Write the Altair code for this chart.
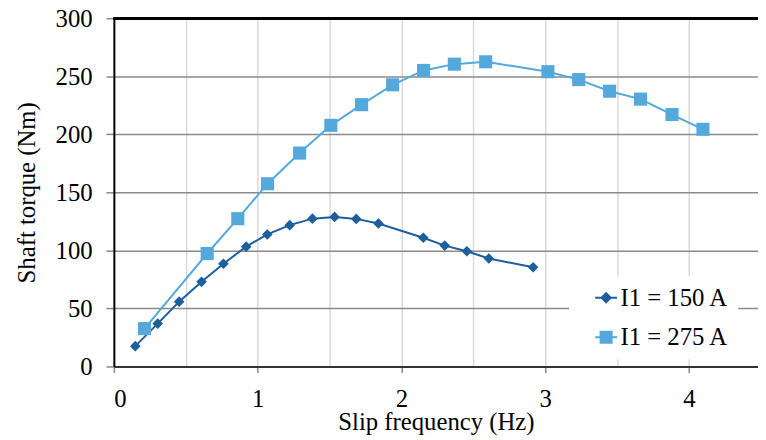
import altair as alt
import pandas as pd

# Series data
s150_x = [0.149, 0.305, 0.454, 0.610, 0.762, 0.920, 1.067, 1.223, 1.381, 1.535,
          1.686, 1.840, 2.152, 2.301, 2.455, 2.608, 2.916]
s150_y = [17.5, 36.9, 55.8, 72.9, 88.5, 103.2, 113.7, 121.7, 127.3, 128.8,
          127.1, 123.1, 110.9, 104.1, 99.2, 93.0, 85.4]
s275_x = [0.213, 0.649, 0.862, 1.069, 1.292, 1.509, 1.723, 1.939, 2.154, 2.368,
          2.586, 3.019, 3.233, 3.448, 3.663, 3.882, 4.097]
s275_y = [32.6, 97.3, 127.3, 157.4, 183.8, 207.7, 225.5, 242.6, 255.0, 260.4,
          262.4, 253.9, 247.1, 237.1, 230.3, 217.0, 204.3]

series_names = ["I1 = 150 A", "I1 = 275 A"]
series_colors = ["#1d5f9d", "#55a8dc"]
series_shapes = ["diamond", "square"]
legend_paths = [
    "M-1,-0.09H1V0.09H-1Z M0,-0.55L0.55,0L0,0.55L-0.55,0Z",
    "M-1,-0.09H1V0.09H-1Z M-0.6,-0.6H0.6V0.6H-0.6Z",
]
x_tick_values = [0, 0.5, 1, 1.5, 2, 2.5, 3, 3.5, 4]
y_tick_values = [0, 50, 100, 150, 200, 250, 300]

rows = []
for xs, ys, name in [(s150_x, s150_y, series_names[0]), (s275_x, s275_y, series_names[1])]:
    for xv, yv in zip(xs, ys):
        rows.append({"x": xv, "y": yv, "series": name})
df = pd.DataFrame(rows)

FONT = "Liberation Serif, Times New Roman, serif"
FS = 25

x_enc = alt.X(
    "x:Q",
    scale=alt.Scale(domain=[0, 4.48], nice=False, zero=False),
    axis=alt.Axis(
        values=x_tick_values,
        labelExpr="datum.value % 1 === 0 ? '' + datum.value : ''",
        grid=True, gridColor="#d9d9d9", gridWidth=1.5,
        tickColor="#888888", tickSize=6, tickWidth=1.5,
        tickOpacity={"condition": {"test": "datum.value % 1 !== 0", "value": 0}, "value": 1},
        domainColor="#333333", domainWidth=2,
        labelFont=FONT, labelFontSize=FS, labelColor="black", labelPadding=14,
        title="Slip frequency (Hz)", titleFont=FONT, titleFontSize=FS,
        titleFontWeight="normal", titleColor="black", titlePadding=-1,
    ),
)
y_enc = alt.Y(
    "y:Q",
    scale=alt.Scale(domain=[0, 300], nice=False),
    axis=alt.Axis(
        values=y_tick_values,
        grid=True, gridColor="#8a8a8a", gridWidth=1.5,
        tickColor="#888888", tickSize=8, tickWidth=1.5,
        domainColor="black", domainWidth=2,
        labelFont=FONT, labelFontSize=FS, labelColor="black", labelPadding=14,
        title="Shaft torque (Nm)", titleFont=FONT, titleFontSize=FS,
        titleFontWeight="normal", titleColor="black",
        titleX=-88, titleY=176, titleAlign="center", titleBaseline="middle", titleAngle=-90,
    ),
)

layers = []
for name, color, shape in zip(series_names, series_colors, series_shapes):
    base = alt.Chart(df).transform_filter(alt.datum.series == name)
    layers.append(base.mark_line(color=color, strokeWidth=2).encode(x=x_enc, y=y_enc))
    size = 115 if shape == "diamond" else 175
    layers.append(
        base.mark_point(filled=True, opacity=1, color=color, shape=shape, size=size)
        .encode(x=x_enc, y=y_enc)
    )

top_border = alt.Chart(df).mark_rule(color="black", strokeWidth=2).encode(y=alt.datum(300))

legend_layer = (
    alt.Chart(df)
    .transform_filter("false")
    .mark_point(filled=True, opacity=1)
    .encode(
        x=x_enc,
        y=y_enc,
        color=alt.Color("series:N", scale=alt.Scale(domain=series_names, range=series_colors),
                        legend=alt.Legend(title=None)),
        shape=alt.Shape("series:N", scale=alt.Scale(domain=series_names, range=legend_paths),
                        legend=alt.Legend(title=None)),
    )
)

chart = (
    alt.layer(top_border, *layers, legend_layer)
    .properties(
        width=651, height=352,
        autosize=alt.AutoSizeParams(type="none"),
        padding={"left": 107, "top": 8, "right": 0, "bottom": 68},
    )
    .configure_view(stroke="transparent")
    .configure_legend(
        orient="none", legendX=460, legendY=261,
        fillColor="white", padding=9, symbolOffset=16, labelOffset=2,
        labelFont=FONT, labelFontSize=FS, labelColor="black",
        rowPadding=14, symbolSize=484, symbolStrokeWidth=0,
    )
)

chart.save("out.html", embed_options={"renderer": "svg", "actions": False})
